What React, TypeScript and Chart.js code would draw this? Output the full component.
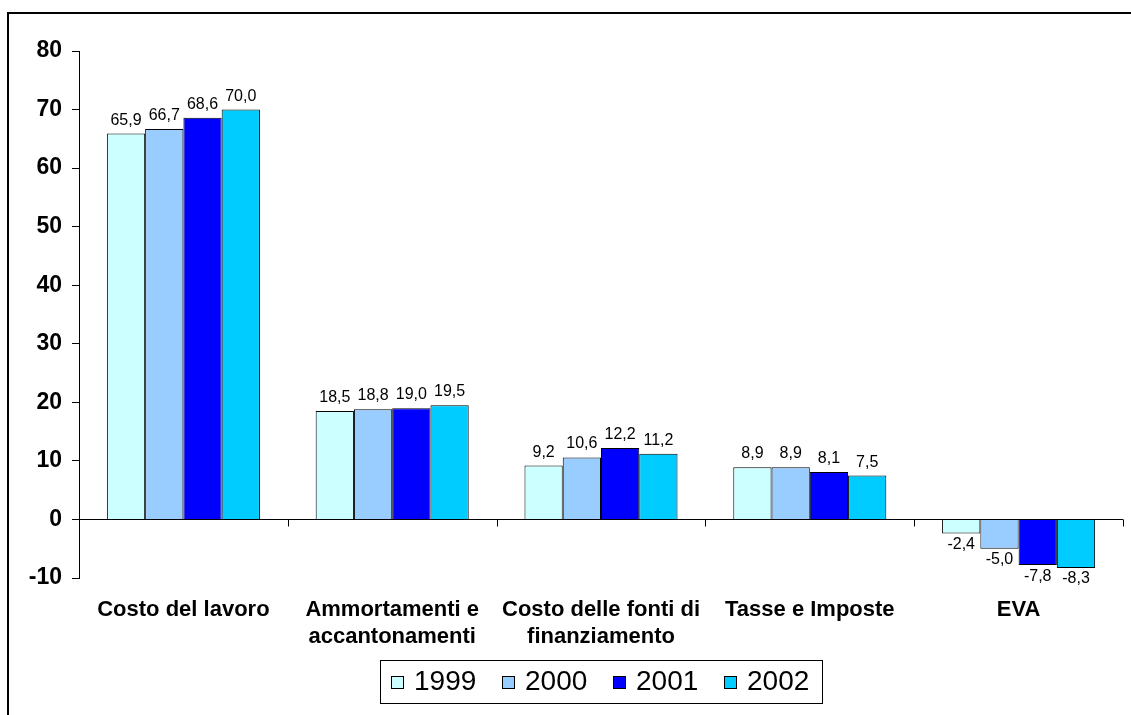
import React, { useEffect, useRef } from "react";
import { Chart, registerables } from "chart.js";

Chart.register(...registerables);

const categories: string[][] = [
  ["Costo del lavoro"],
  ["Ammortamenti e", "accantonamenti"],
  ["Costo delle fonti di", "finanziamento"],
  ["Tasse e Imposte"],
  ["EVA"],
];
const years = ["1999", "2000", "2001", "2002"];
const values1999 = [65.9, 18.5, 9.2, 8.9, -2.4];
const values2000 = [66.7, 18.8, 10.6, 8.9, -5.0];
const values2001 = [68.6, 19.0, 12.2, 8.1, -7.8];
const values2002 = [70.0, 19.5, 11.2, 7.5, -8.3];
const colors = ["#CCFFFF", "#99CCFF", "#0000FF", "#00CCFF"];
const yMin = -10;
const yMax = 80;
const yStep = 10;

const FONT = "'Liberation Sans', Arial, sans-serif";

const fmt = (v: number) => v.toFixed(1).replace(".", ",");

const overlay = {
  id: "overlay",
  afterDatasetsDraw(chart: any) {
    const ctx = chart.ctx;
    const area = chart.chartArea;
    const y = chart.scales.y;
    ctx.save();
    // frame
    ctx.fillStyle = "#000";
    ctx.fillRect(7, 12, chart.width - 7, 2);
    ctx.fillRect(7, 12, 2, chart.height - 12);
    // zero line
    const y0 = Math.round(y.getPixelForValue(0)) + 0.5;
    ctx.strokeStyle = "#000";
    ctx.lineWidth = 1;
    ctx.beginPath();
    ctx.moveTo(area.left, y0);
    ctx.lineTo(area.right, y0);
    // category boundary ticks
    const n = categories.length;
    const w = (area.right - area.left) / n;
    for (let i = 1; i <= n; i++) {
      const bx = Math.round(area.left + i * w) + 0.5;
      ctx.moveTo(bx, y0);
      ctx.lineTo(bx, y0 + 7);
    }
    ctx.stroke();
    // data labels
    ctx.font = `16px ${FONT}`;
    ctx.fillStyle = "#000";
    ctx.textAlign = "center";
    chart.data.datasets.forEach((ds: any, di: number) => {
      const meta = chart.getDatasetMeta(di);
      meta.data.forEach((bar: any, i: number) => {
        const v = ds.data[i];
        if (v >= 0) {
          ctx.textBaseline = "alphabetic";
          ctx.fillText(fmt(v), bar.x, bar.y - 9);
        } else {
          ctx.textBaseline = "top";
          ctx.fillText(fmt(v), bar.x, bar.y + 3);
        }
      });
    });
    // legend
    const bx = 380, by = 660, bw = 442, bh = 43;
    ctx.strokeStyle = "#000";
    ctx.lineWidth = 1;
    ctx.strokeRect(bx + 0.5, by + 0.5, bw, bh);
    ctx.font = `28px ${FONT}`;
    const sw = 13;
    const gapIn = 10;
    const gapOut = 26;
    const widths = years.map((t) => ctx.measureText(t).width);
    const total = widths.reduce((a, b) => a + b + sw + gapIn, 0) + gapOut * (years.length - 1);
    let cx = Math.round(bx + (bw - total) / 2);
    const cy = by + bh / 2;
    ctx.textAlign = "left";
    ctx.textBaseline = "middle";
    years.forEach((t, i) => {
      const sy = Math.round(cy - sw / 2) + 1;
      ctx.fillStyle = colors[i];
      ctx.fillRect(cx, sy, sw, sw);
      ctx.strokeStyle = "#000";
      ctx.strokeRect(cx + 0.5, sy + 0.5, sw - 1, sw - 1);
      ctx.fillStyle = "#000";
      ctx.fillText(t, cx + sw + gapIn, cy + 1);
      cx = Math.round(cx + sw + gapIn + widths[i] + gapOut);
    });
    ctx.restore();
  },
};

export default function App() {
  const ref = useRef<HTMLCanvasElement>(null);
  useEffect(() => {
    if (!ref.current) return;
    const series = [values1999, values2000, values2001, values2002];
    const chart = new Chart(ref.current, {
      type: "bar",
      data: {
        labels: categories,
        datasets: series.map((d, i) => ({
          label: years[i],
          data: d,
          backgroundColor: colors[i],
          borderColor: "#000",
          borderWidth: 1,
          barPercentage: 1,
          categoryPercentage: 0.733,
        })),
      },
      options: {
        responsive: false,
        animation: false,
        devicePixelRatio: 1,
        layout: { padding: { top: 51, right: 8, bottom: 0, left: 0 } },
        plugins: { legend: { display: false }, tooltip: { enabled: false } },
        scales: {
          x: {
            grid: { display: false, drawTicks: false },
            border: { display: false },
            ticks: {
              color: "#000",
              font: { family: FONT, size: 22, weight: "bold", lineHeight: 1.2 },
              padding: 19,
              maxRotation: 0,
              autoSkip: false,
            },
            afterFit: (s: any) => {
              s.height = 137;
            },
          },
          y: {
            min: yMin,
            max: yMax,
            grid: { drawOnChartArea: false, tickLength: 7, color: "#000" },
            border: { display: true, color: "#000", width: 1 },
            ticks: {
              stepSize: yStep,
              color: "#000",
              padding: 10,
              font: { family: FONT, size: 23, weight: "bold" },
            },
            afterFit: (s: any) => {
              s.width = 79;
            },
          },
        },
      },
      plugins: [overlay],
    });
    return () => chart.destroy();
  }, []);
  return (
    <div style={{ position: "fixed", left: 0, top: 0, width: 1131, height: 715, background: "#fff" }}>
      <canvas ref={ref} width={1131} height={715} style={{ display: "block" }} />
    </div>
  );
}
